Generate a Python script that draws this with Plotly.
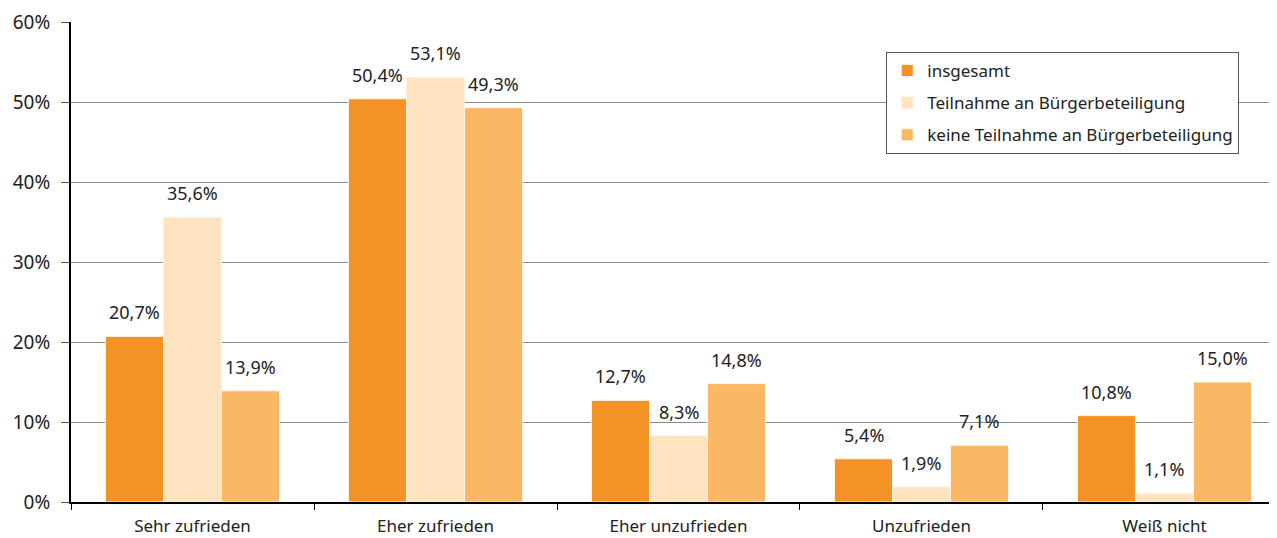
import plotly.graph_objects as go

categories = ["Sehr zufrieden", "Eher zufrieden", "Eher unzufrieden", "Unzufrieden", "Weiß nicht"]
insgesamt = [20.7, 50.4, 12.7, 5.4, 10.8]
teilnahme = [35.6, 53.1, 8.3, 1.9, 1.1]
keine_teilnahme = [13.9, 49.3, 14.8, 7.1, 15.0]

series = [
    ("insgesamt", insgesamt, "#F39325"),
    ("Teilnahme an Bürgerbeteiligung", teilnahme, "#FDE3C0"),
    ("keine Teilnahme an Bürgerbeteiligung", keine_teilnahme, "#FAB865"),
]

FONT = "Noto Sans"
BARGAP = 0.284

fig = go.Figure()
barw = (1 - BARGAP) / len(series)
for k, (name, vals, col) in enumerate(series):
    fig.add_trace(go.Bar(
        x=categories, y=vals, name=name, legendgroup=name,
        marker=dict(color=col, line=dict(color="#FFF4E6", width=1)),
    ))
    # value labels above each bar
    for i, v in enumerate(vals):
        fig.add_annotation(
            x=i + (k - 1) * barw, y=v, xref="x", yref="y",
            text=f"{v:.1f}%".replace(".", ","), showarrow=False,
            yanchor="bottom", yshift=10,
            font=dict(family=FONT, size=18, color="#222"),
        )

# the page body has an 8px margin, so the figure is a bit smaller
fig.update_layout(
    width=1269, height=530,
    margin=dict(l=63, r=0, t=14, b=36, autoexpand=False),
    barmode="group", bargap=BARGAP, bargroupgap=0,
    separators=",.",
    plot_bgcolor="white", paper_bgcolor="white",
    font=dict(family=FONT, size=17, color="#222"),
    legend=dict(
        x=0.676, y=0.9375, xanchor="left", yanchor="top",
        bordercolor="#555", borderwidth=1, bgcolor="white",
        font=dict(family=FONT, size=17, color="#222"),
        tracegroupgap=7, itemwidth=30,
    ),
)
fig.update_xaxes(
    range=[-0.5, 4.463], tickson="boundaries", automargin=False,
    ticks="outside", ticklen=6, tickcolor="#000", tickwidth=1,
    ticklabelstandoff=8,
    showline=True, linecolor="#000", linewidth=2,
    tickfont=dict(family=FONT, size=17, color="#222"),
)
fig.update_yaxes(
    range=[0, 60], dtick=10, ticksuffix="%", automargin=False,
    ticks="outside", ticklen=8, tickcolor="#555",
    ticklabelstandoff=7,
    showline=True, linecolor="#000", linewidth=2,
    showgrid=True, gridcolor="#8C8C8C", gridwidth=1,
    tickfont=dict(family=FONT, size=19, color="#222"),
    zeroline=False,
)

fig.write_html("out.html")
